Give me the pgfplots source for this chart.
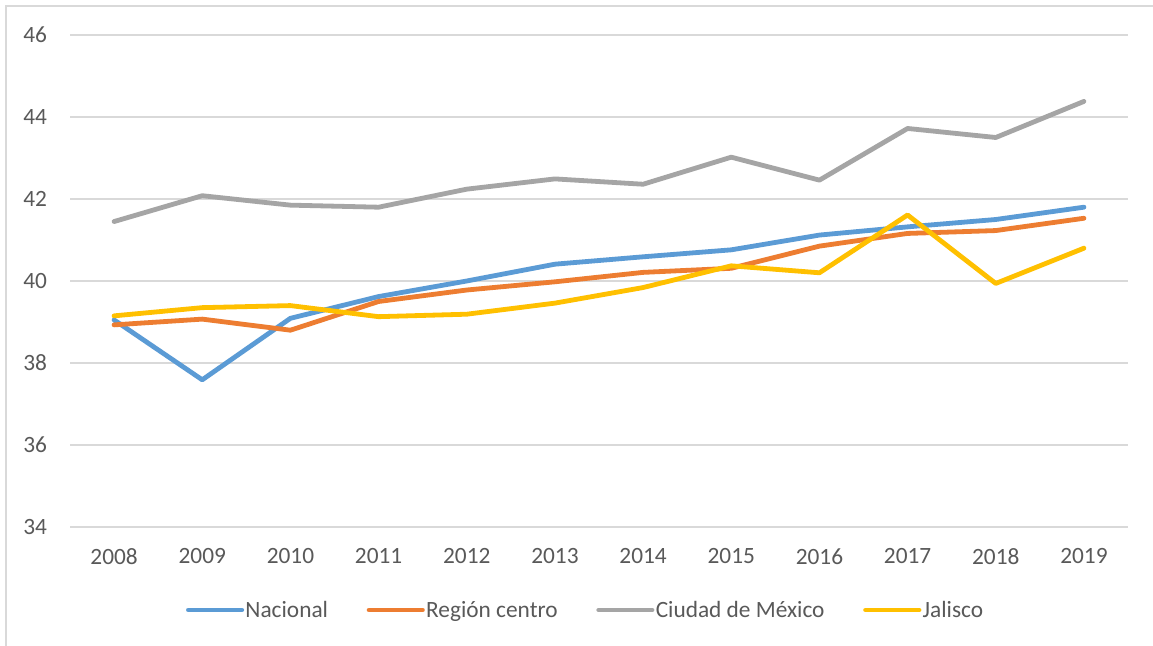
\documentclass[border=0pt]{standalone}
\usepackage{fontspec}
\setmainfont{Carlito}
\usepackage{pgfplots}
\pgfplotsset{compat=1.18}
\definecolor{cBlue}{HTML}{5B9BD5}
\definecolor{cOrange}{HTML}{ED7D31}
\definecolor{cGray}{HTML}{A5A5A5}
\definecolor{cYellow}{HTML}{FFC000}
\definecolor{cGrid}{HTML}{D9D9D9}
\definecolor{cText}{HTML}{595959}
\newcommand\chartfont{\fontsize{17.5pt}{20pt}\selectfont}
\begin{document}
\begin{tikzpicture}
\path[use as bounding box, fill=white] (0pt,0pt) rectangle (864.75pt,484.5pt);
\draw[cGrid, line width=1.2pt] (4.5pt,0pt) -- (4.5pt,480pt) -- (864.75pt,480pt);
\begin{axis}[
  at={(52.5pt,89.25pt)}, anchor=south west,
  scale only axis, width=793.5pt, height=369pt,
  xmin=-0.5, xmax=11.5, ymin=34, ymax=46,
  xtick={0,...,11},
  xticklabels={2008,2009,2010,2011,2012,2013,2014,2015,2016,2017,2018,2019},
  ytick={34,36,...,46},
  axis line style={draw=none},
  tick style={draw=none},
  ymajorgrids, major grid style={cGrid, line width=1.2pt},
  /pgf/number format/assume math mode=true,
  tick label style={font=\chartfont, text=cText, inner sep=0pt},
  yticklabel style={xshift=-17pt},
  xticklabel style={yshift=-16pt},
  clip=false,
  legend columns=4,
  legend style={at={(0.487,-0.1687)}, anchor=center, draw=none, fill=none,
    font=\chartfont, text=cText, nodes={inner sep=1pt},
    /tikz/every even column/.append style={column sep=28pt}},
  legend image code/.code={\draw[#1, line width=3.6pt, line cap=round] (0pt,0pt) -- (40pt,0pt);},
  every axis plot/.append style={line width=3.6pt, line cap=round, line join=round, mark=none},
]
\addplot[cBlue] coordinates {(0,39.05) (1,37.59) (2,39.09) (3,39.62) (4,40.0) (5,40.41) (6,40.59) (7,40.76) (8,41.12) (9,41.32) (10,41.5) (11,41.8)};
\addlegendentry{Nacional}
\addplot[cOrange] coordinates {(0,38.93) (1,39.07) (2,38.8) (3,39.5) (4,39.78) (5,39.98) (6,40.21) (7,40.31) (8,40.85) (9,41.16) (10,41.23) (11,41.53)};
\addlegendentry{Región centro}
\addplot[cGray] coordinates {(0,41.45) (1,42.08) (2,41.85) (3,41.8) (4,42.24) (5,42.49) (6,42.36) (7,43.02) (8,42.46) (9,43.72) (10,43.5) (11,44.38)};
\addlegendentry{Ciudad de México}
\addplot[cYellow] coordinates {(0,39.15) (1,39.35) (2,39.4) (3,39.13) (4,39.19) (5,39.46) (6,39.84) (7,40.37) (8,40.2) (9,41.61) (10,39.94) (11,40.8)};
\addlegendentry{Jalisco}
\end{axis}
\end{tikzpicture}
\end{document}
